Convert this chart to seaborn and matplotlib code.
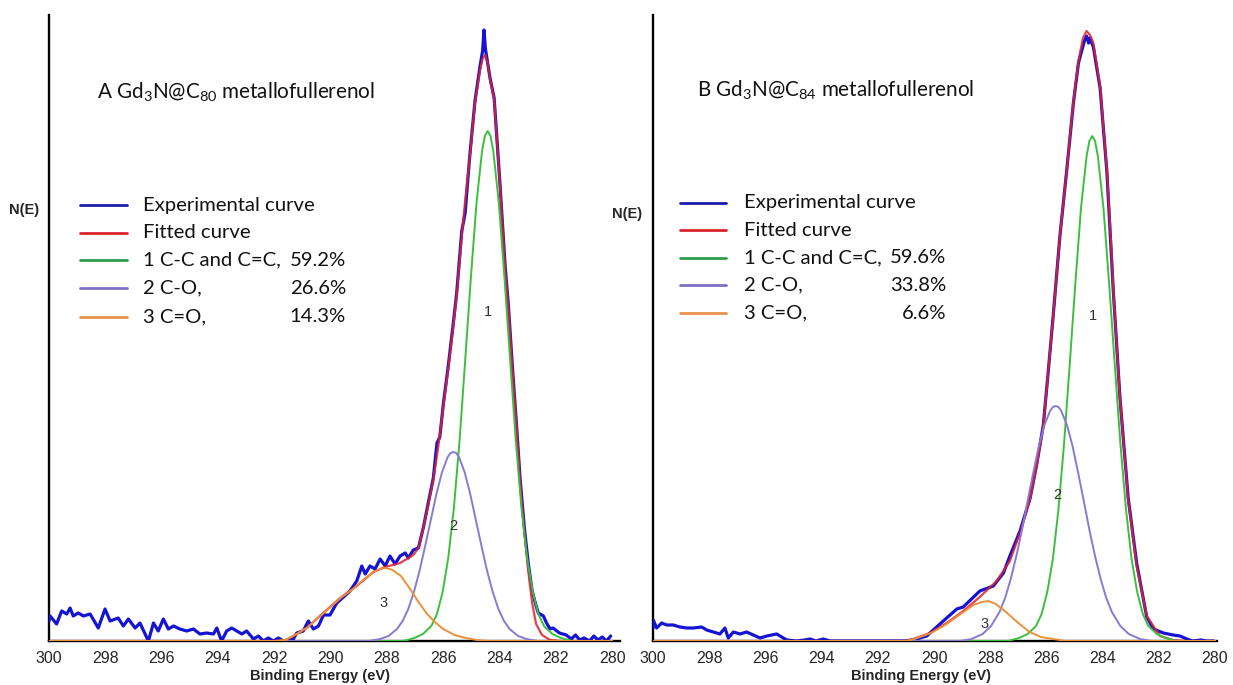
import numpy as np
import pandas as pd
import matplotlib
matplotlib.use("Agg")
import matplotlib.pyplot as plt
import seaborn as sns

# ---------------- Panel A : Gd3N@C80 metallofullerenol ----------------
a_exp_E = [300.0, 299.96, 299.73, 299.55, 299.37, 299.25, 299.14, 298.96, 298.78, 298.54, 298.25, 298.01,
           297.83, 297.54, 297.36, 297.18, 296.94, 296.77, 296.47, 296.29, 296.12, 295.94, 295.76, 295.58,
           295.35, 295.11, 294.87, 294.64, 294.40, 294.16, 294.04, 293.87, 293.69, 293.51, 293.33, 293.15,
           292.98, 292.74, 292.56, 292.39, 292.21, 292.03, 291.85, 291.68, 291.32, 291.20, 290.97, 290.79,
           290.61, 290.43, 290.25, 290.02, 289.78, 289.54, 289.31, 289.07, 288.89, 288.77, 288.60, 288.42,
           288.24, 288.06, 287.89, 287.71, 287.53, 287.35, 287.24, 287.06, 286.88, 286.70, 286.53, 286.35,
           286.22, 286.12, 285.99, 285.82, 285.64, 285.52, 285.34, 285.22, 285.10, 285.04, 284.87, 284.69,
           284.60, 284.55, 284.50, 284.33, 284.19, 283.98, 283.80, 283.69, 283.55, 283.41, 283.27, 283.12,
           282.98, 282.84, 282.70, 282.62, 282.44, 282.33, 282.20, 282.10, 281.87, 281.63, 281.45, 281.30,
           281.15, 281.00, 280.80, 280.65, 280.50, 280.35, 280.20, 280.05]
a_exp_I = [20, 25, 17, 30, 27, 33, 25, 28, 25, 27, 13, 32,
           20, 23, 15, 22, 13, 18, 0, 18, 10, 22, 12, 15,
           12, 10, 12, 7, 8, 7, 13, 0, 10, 13, 10, 7,
           10, 2, 5, 0, 3, 0, 3, 0, 2, 8, 10, 20,
           12, 15, 26, 26, 38, 44, 50, 60, 75, 67, 75, 72,
           82, 75, 85, 77, 85, 88, 83, 91, 93, 114, 138, 163,
           198, 204, 238, 275, 318, 348, 410, 428, 470, 490, 540, 575,
           590, 611, 592, 562, 543, 456, 375, 338, 278, 222, 163, 114,
           78, 50, 35, 28, 25, 18, 12, 13, 8, 6, 2, 6,
           1, 3, 0, 5, 1, 4, 0, 5]

a_fit_E = [300.0, 292.0, 291.6, 291.44, 290.85, 290.26, 289.66, 289.07, 288.48, 288.06, 287.53, 287.06,
           286.88, 286.70, 286.53, 286.35, 286.17, 285.99, 285.82, 285.64, 285.52, 285.34, 285.22, 285.04,
           284.87, 284.69, 284.60, 284.51, 284.42, 284.33, 284.19, 283.98, 283.80, 283.69, 283.55, 283.41,
           283.27, 283.12, 282.98, 282.84, 282.70, 282.49, 282.20, 281.80, 280.0]
a_fit_I = [0, 0, 1, 3, 13, 28, 43, 55, 69, 74, 78, 86,
           93, 114, 136, 161, 195, 235, 272, 315, 345, 405, 440, 488,
           538, 571, 582, 586, 578, 561, 541, 454, 371, 335, 275, 220,
           160, 110, 70, 38, 17, 6, 1, 0, 0]

a_p1_E = [300.0, 287.4, 287.02, 286.72, 286.42, 286.22, 286.02, 285.82, 285.62, 285.42, 285.22, 285.02,
          284.82, 284.62, 284.52, 284.42, 284.32, 284.22, 284.02, 283.82, 283.62, 283.42, 283.22, 283.02,
          282.82, 282.62, 282.42, 282.12, 281.82, 281.42, 280.0]
a_p1_I = [0, 0, 3, 7, 15, 27, 49, 83, 133, 200, 280, 362,
          437, 490, 505, 510, 505, 490, 437, 362, 280, 200, 133, 83,
          49, 27, 15, 7, 3, 0, 0]

a_p2_E = [300.0, 288.64, 288.24, 287.94, 287.64, 287.44, 287.24, 287.04, 286.84, 286.64, 286.44, 286.24,
          286.04, 285.84, 285.74, 285.64, 285.54, 285.44, 285.24, 285.04, 284.84, 284.64, 284.44, 284.24,
          284.04, 283.84, 283.64, 283.34, 283.04, 282.64, 280.0]
a_p2_I = [0, 0, 2, 5, 12, 20, 32, 49, 70, 95, 121, 147,
          169, 184, 188, 189, 188, 184, 169, 147, 121, 95, 70, 49,
          32, 20, 12, 5, 2, 0, 0]

a_p3_E = [300.0, 292.0, 291.6, 291.2, 290.8, 290.4, 290.0, 289.6, 289.2, 288.8, 288.4, 288.2, 288.06,
          287.9, 287.8, 287.5, 287.2, 286.9, 286.6, 286.3, 286.0, 285.6, 285.2, 284.8, 284.4, 280.0]
a_p3_I = [0, 0, 1, 7, 14, 24, 34, 44, 52, 62, 70, 72.5, 73,
          72, 71, 65, 53, 40, 28, 19, 12, 6, 3, 1, 0, 0]

# ---------------- Panel B : Gd3N@C84 metallofullerenol ----------------
b_exp_E = [300.0, 299.99, 299.87, 299.69, 299.51, 299.28, 299.04, 298.80, 298.56, 298.27, 298.09, 297.85,
           297.62, 297.44, 297.32, 297.14, 296.90, 296.67, 296.43, 296.19, 295.95, 295.60, 295.24, 294.89,
           294.60, 294.41, 294.20, 293.94, 293.70, 293.35, 292.0, 291.0, 290.62, 290.26, 289.79, 289.19,
           288.96, 288.37, 287.89, 287.53, 287.30, 286.94, 286.58, 286.35, 286.11, 285.94, 285.76, 285.52,
           285.28, 285.04, 284.86, 284.65, 284.57, 284.50, 284.45, 284.33, 284.09, 283.85, 283.62, 283.38,
           283.09, 282.79, 282.43, 282.19, 281.84, 281.49, 281.25, 281.00, 280.80, 280.50, 280.30, 280.05]
b_exp_I = [13, 21, 13, 18, 16, 16, 14, 13, 13, 14, 11, 9,
           7, 13, 3, 9, 7, 9, 6, 3, 5, 7, 1, 0,
           1, 2, 0, 2, 0, 0, 0, 0, 2, 5, 17, 32,
           34, 50, 55, 68, 85, 110, 143, 176, 216, 268, 325, 405,
           470, 538, 578, 600, 605, 598, 603, 594, 553, 470, 350, 242,
           143, 78, 24, 12, 8, 6, 5, 2, 0, 1, 0, 0]

b_fit_E = [300.0, 291.0, 290.74, 290.14, 289.55, 288.96, 288.37, 287.77, 287.30, 286.94, 286.58, 286.35,
           286.11, 285.94, 285.76, 285.52, 285.28, 285.04, 284.86, 284.70, 284.57, 284.45, 284.33, 284.09,
           283.85, 283.68, 283.62, 283.38, 283.09, 282.79, 282.43, 281.96, 281.49, 281.0, 280.0]
b_fit_I = [0, 0, 2, 8, 18, 30, 44, 60, 80, 108, 142, 175,
           215, 268, 325, 405, 470, 540, 580, 603, 610, 606, 598, 555,
           472, 388, 350, 241, 141, 75, 25, 5, 1, 0, 0]

b_p1_E = [300.0, 287.37, 286.97, 286.67, 286.37, 286.17, 285.97, 285.77, 285.57, 285.37, 285.17, 284.97,
          284.77, 284.57, 284.47, 284.37, 284.27, 284.17, 283.97, 283.77, 283.57, 283.37, 283.17, 282.97,
          282.77, 282.57, 282.37, 282.07, 281.77, 281.37, 280.0]
b_p1_I = [0, 0, 3, 7, 15, 27, 49, 82, 132, 198, 277, 358,
          433, 485, 500, 505, 500, 485, 433, 358, 277, 198, 132, 82,
          49, 27, 15, 7, 3, 0, 0]

b_p2_E = [300.0, 289.07, 288.67, 288.27, 287.97, 287.67, 287.47, 287.27, 287.07, 286.87, 286.67, 286.47,
          286.27, 286.07, 285.87, 285.77, 285.67, 285.57, 285.47, 285.27, 285.07, 284.87, 284.67, 284.47,
          284.27, 284.07, 283.87, 283.67, 283.37, 283.07, 282.67, 282.27, 280.0]
b_p2_I = [0, 0, 2, 7, 15, 29, 43, 62, 85, 111, 140, 168,
          195, 216, 230, 234, 235, 234, 230, 216, 195, 168, 140, 111,
          85, 62, 43, 29, 15, 7, 2, 0, 0]

b_p3_E = [300.0, 291.0, 290.7, 290.1, 289.55, 289.0, 288.6, 288.3, 288.07, 287.8, 287.4, 287.0,
          286.6, 286.2, 285.75, 285.3, 280.0]
b_p3_I = [0, 0, 2, 8, 17, 28, 36, 39, 40, 37, 28, 18,
          9, 4, 2, 0, 0]

# ---------------- labels ----------------
x_ticks = [300, 298, 296, 294, 292, 290, 288, 286, 284, 282, 280]
legend_names = ["Experimental curve", "Fitted curve", "1 C-C and C=C,", "2 C-O,", "3 C=O,"]
a_percent = ["", "", "59.2%", "26.6%", "14.3%"]
b_percent = ["", "", "59.6%", "33.8%", "6.6%"]
a_title = r"A Gd$_\mathregular{3}$N@C$_\mathregular{80}$ metallofullerenol"
b_title = r"B Gd$_\mathregular{3}$N@C$_\mathregular{84}$ metallofullerenol"
peak_labels = ["1", "2", "3"]
a_peak_pos = [(284.40, 329), (285.65, 115), (288.13, 38)]
b_peak_pos = [(284.34, 325), (285.62, 146), (288.22, 17)]

# ---------------- style ----------------
sns.set_style("white")
plt.rcParams['font.family'] = ['Lato', 'DejaVu Sans']
plt.rcParams['mathtext.fontset'] = 'custom'
plt.rcParams['mathtext.rm'] = 'Lato'

c_exp, c_fit = "#1414d2", "#e3202c"
c_p1, c_p2, c_p3 = "#3cbf3c", "#8a79d2", "#e8913a"
leg_cols = ["#1c1ca8", "#d9242e", "#2e9e4e", "#7e70c6", "#e8924c"]
TXT = 14.6

W, H = 1233, 685
fig = plt.figure(figsize=(W / 100, H / 100), dpi=100)
axA = fig.add_axes([49 / W, 44 / H, 571 / W, 626 / H])
axB = fig.add_axes([653 / W, 44 / H, 564 / W, 626 / H])


def draw_panel(ax, series, xmax_lim, peak_pos):
    (eE, eI), (fE, fI), (p1E, p1I), (p2E, p2I), (p3E, p3I) = series
    sns.lineplot(x=eE, y=eI, ax=ax, color=c_exp, lw=2.3, sort=False, estimator=None, zorder=2)
    sns.lineplot(x=fE, y=fI, ax=ax, color=c_fit, lw=1.6, sort=False, estimator=None, alpha=0.85, zorder=3)
    sns.lineplot(x=p1E, y=p1I, ax=ax, color=c_p1, lw=1.4, sort=False, estimator=None, zorder=4)
    sns.lineplot(x=p2E, y=p2I, ax=ax, color=c_p2, lw=1.4, sort=False, estimator=None, zorder=4)
    sns.lineplot(x=p3E, y=p3I, ax=ax, color=c_p3, lw=1.4, sort=False, estimator=None, zorder=4)
    ax.set_xlim(300, xmax_lim)
    ax.set_ylim(0, 626)
    ax.set_xticks(x_ticks)
    ax.set_xticklabels([str(t) for t in x_ticks], family='Liberation Sans', fontsize=11.5)
    ax.set_yticks([])
    ax.tick_params(axis='x', length=0, pad=7)
    for s in ['top', 'right']:
        ax.spines[s].set_visible(False)
    for s in ['left', 'bottom']:
        ax.spines[s].set_color('black')
        ax.spines[s].set_linewidth(1.7)
        ax.spines[s].set_zorder(1)
    ax.set_xlabel('')
    ax.set_ylabel('')
    ax.patch.set_alpha(0)
    for lab, (ex, ey) in zip(peak_labels, peak_pos):
        ax.text(ex, ey, lab, ha='center', va='center', fontsize=10.5,
                family='Liberation Sans', color='#333333', zorder=5)


draw_panel(axA, [(a_exp_E, a_exp_I), (a_fit_E, a_fit_I), (a_p1_E, a_p1_I),
                 (a_p2_E, a_p2_I), (a_p3_E, a_p3_I)], 279.72, a_peak_pos)
draw_panel(axB, [(b_exp_E, b_exp_I), (b_fit_E, b_fit_I), (b_p1_E, b_p1_I),
                 (b_p2_E, b_p2_I), (b_p3_E, b_p3_I)], 279.93, b_peak_pos)


def fx(px):
    return px / W


def fy(py):
    return 1 - py / H


# titles
fig.text(fx(97), fy(92), a_title, fontsize=TXT + 0.3, ha='left', va='center', color='#111111')
fig.text(fx(697), fy(90), b_title, fontsize=TXT + 0.3, ha='left', va='center', color='#111111')


# legends (drawn by hand so the percentages line up in a column)
def legend(x0, x1, xt, xr, rows, perc):
    for name, pc, col, yy in zip(legend_names, perc, leg_cols, rows):
        fig.add_artist(plt.Line2D([fx(x0), fx(x1)], [fy(yy), fy(yy)], color=col, lw=2.0,
                                  transform=fig.transFigure))
        fig.text(fx(xt), fy(yy), name, fontsize=TXT, ha='left', va='center', color='#111111')
        if pc:
            fig.text(fx(xr), fy(yy), pc, fontsize=TXT, ha='right', va='center', color='#111111')


legend(80, 127, 143, 346, [205, 232.7, 260, 288.3, 316.7], a_percent)
legend(680, 726, 744, 946, [202.7, 230, 257.7, 285, 313.3], b_percent)

# axis labels
for px, py in [(24, 210), (627, 214)]:
    fig.text(fx(px), fy(py), "N(E)", fontsize=10.5, fontweight='bold', family='Liberation Sans',
             ha='center', va='center')
for px in [320, 921]:
    fig.text(fx(px), fy(676), "Binding Energy (eV)", fontsize=10.5, fontweight='bold',
             family='Liberation Sans', ha='center', va='center')

fig.savefig("out.png", dpi=100)
